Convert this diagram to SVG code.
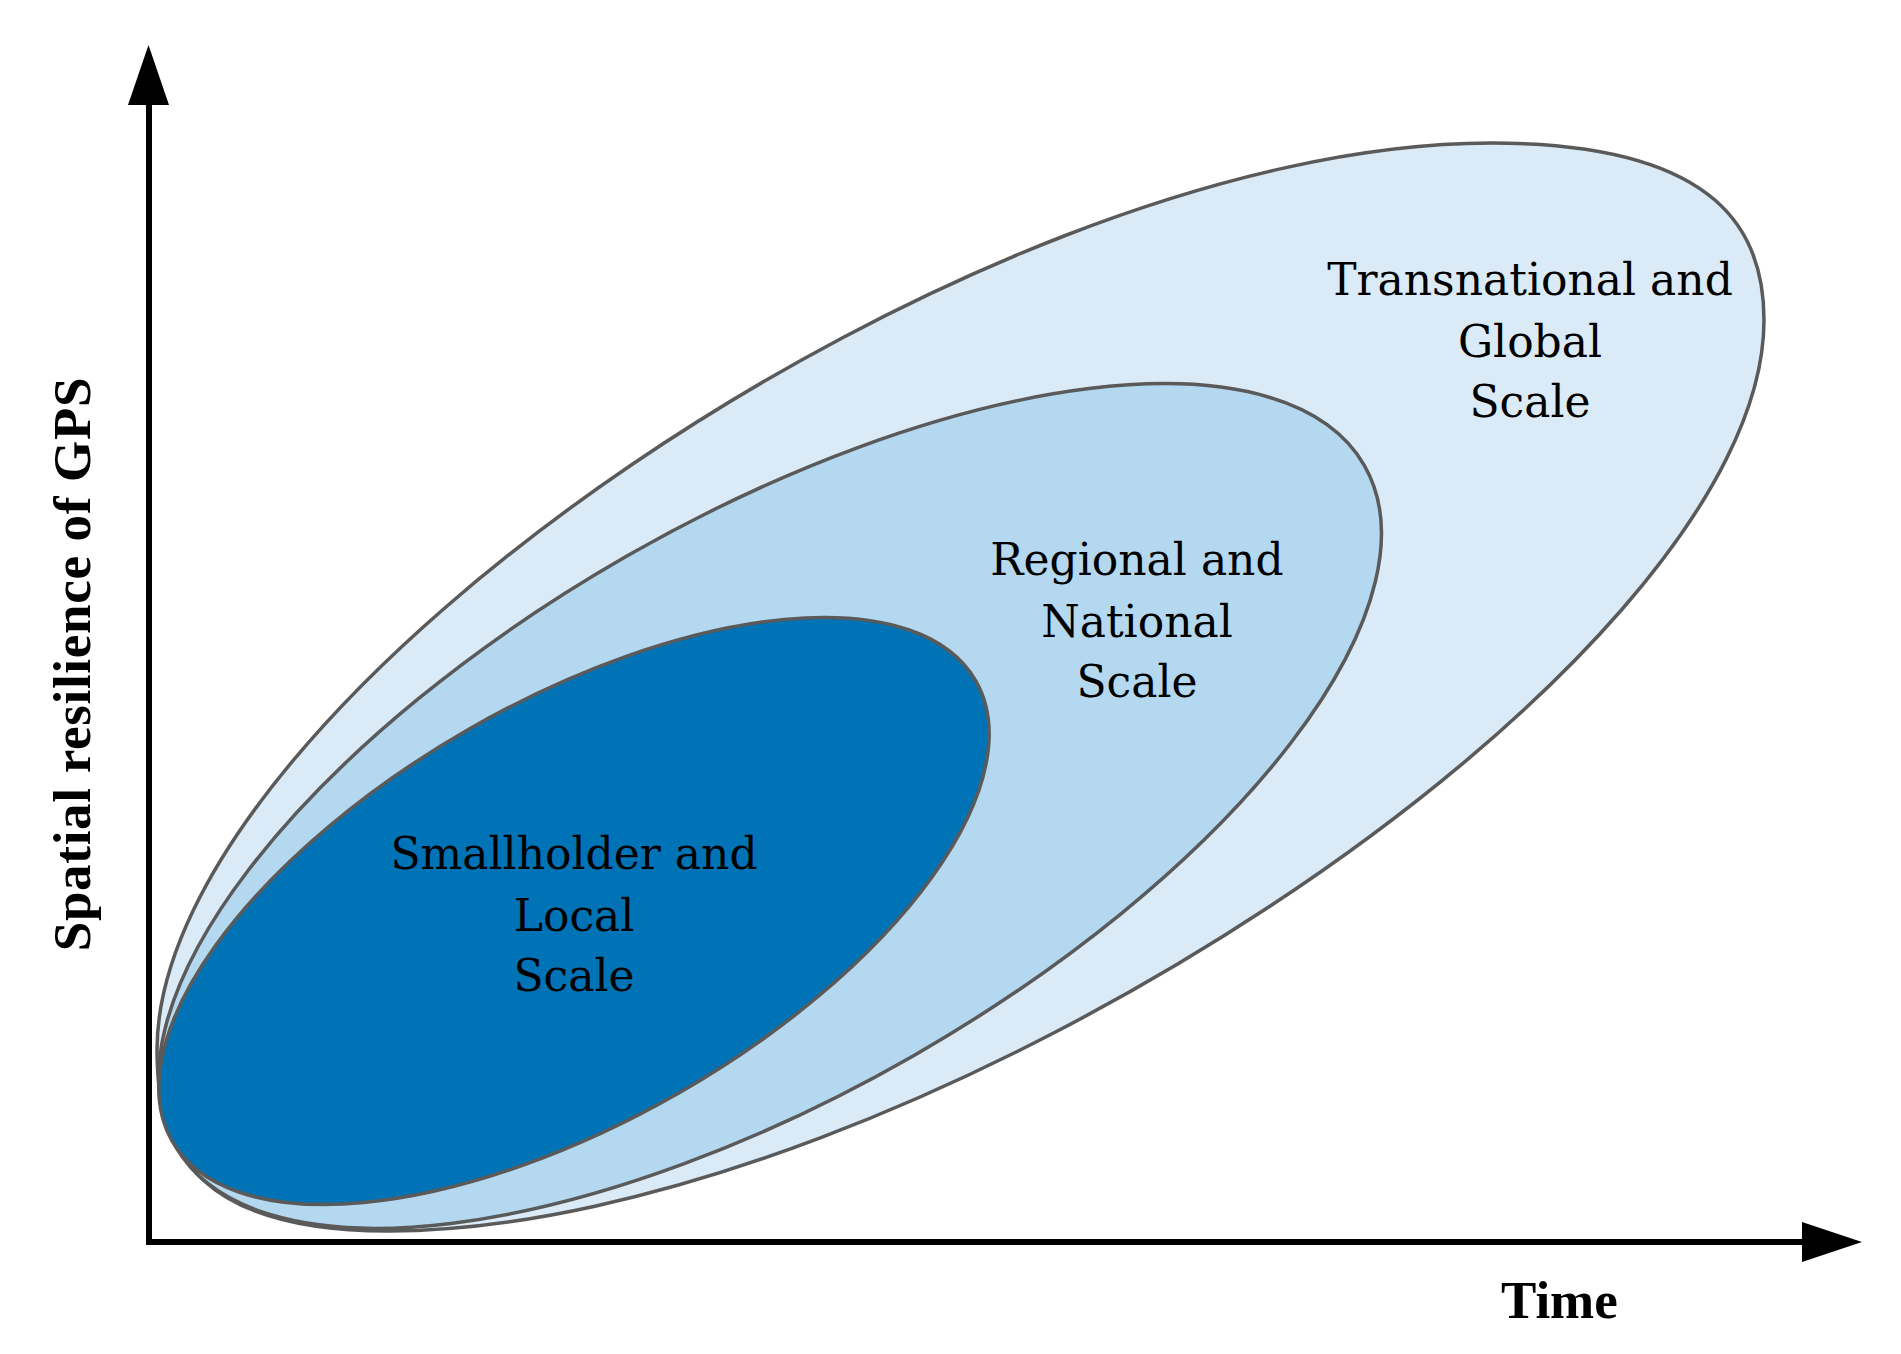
<svg xmlns="http://www.w3.org/2000/svg" width="1901" height="1354" viewBox="0 0 1901 1354">
<style>
.region{stroke:#5a5a5a;stroke-width:3.5}
.lbl{font-family:"DejaVu Serif","Liberation Serif",serif;font-size:44px;fill:#000;text-anchor:middle}
.axis{stroke:#000;stroke-width:6;fill:none}
.head{fill:#000}
.axlbl{font-family:"Liberation Serif","Times New Roman",serif;font-weight:bold;font-size:53px;fill:#000}
</style>
<rect width="1901" height="1354" fill="#fff"/>
<g id="global">
<path class="region" fill="#DAEBF7" d="M1491,143 C1724,143 1764,236 1764,320 C1764,670 903,1231 388,1231 C203,1231 157,1155 157,1050 C157,700 976,143 1491,143 Z"/>
<text class="lbl" x="1530" y="295">Transnational and</text>
<text class="lbl" x="1530" y="357">Global</text>
<text class="lbl" x="1530" y="417">Scale</text>
</g>
<g id="regional">
<ellipse class="region" cx="770" cy="806" rx="685" ry="288" transform="rotate(-29.8 770 806)" fill="#B4D8EF"/>
<text class="lbl" x="1137" y="575">Regional and</text>
<text class="lbl" x="1137" y="637">National</text>
<text class="lbl" x="1137" y="697">Scale</text>
</g>
<g id="local">
<ellipse class="region" cx="574" cy="911" rx="463" ry="210" transform="rotate(-29.8 574 911)" fill="#0073B6"/>
<text class="lbl" x="574" y="869">Smallholder and</text>
<text class="lbl" x="574" y="931">Local</text>
<text class="lbl" x="574" y="991">Scale</text>
</g>
<g id="connectors">
<line class="axis" x1="149" y1="1245" x2="149" y2="100"/>
<polygon class="head" points="148.5,45 128,105 169,105"/>
<line class="axis" x1="146" y1="1242" x2="1806" y2="1242"/>
<polygon class="head" points="1862,1242 1802,1222 1802,1262"/>
</g>
<g id="axis-labels">
<text class="axlbl" x="1501" y="1318">Time</text>
<text class="axlbl" transform="translate(90,664) rotate(-90)" text-anchor="middle" letter-spacing="0.7">Spatial resilience of GPS</text>
</g>
</svg>
